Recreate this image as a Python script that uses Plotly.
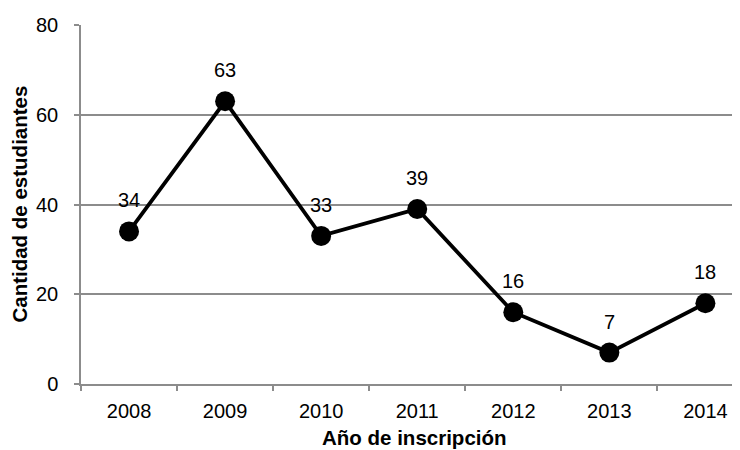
import plotly.graph_objects as go

years = ["2008", "2009", "2010", "2011", "2012", "2013", "2014"]
students = [34, 63, 33, 39, 16, 7, 18]
y_ticks = [0, 20, 40, 60, 80]

FONT = "Liberation Sans, Arial, sans-serif"
GRID = "#8c8c8c"

fig = go.Figure()
fig.add_trace(go.Scatter(
    x=years, y=students, mode="lines+markers",
    line=dict(color="black", width=3.8),
    marker=dict(color="black", size=20),
    hoverinfo="skip", showlegend=False,
))

for i, v in enumerate(students):
    fig.add_annotation(x=i, y=v, text=str(v), showarrow=False,
                       yshift=31, font=dict(family=FONT, size=20, color="#000"))

fig.add_annotation(x=0.506, xref="paper", y=-0.148, yref="paper",
                   xanchor="center", yanchor="middle",
                   text="<b>Año de inscripción</b>", showarrow=False,
                   font=dict(family=FONT, size=20.5, color="#000"))
fig.add_annotation(x=-0.094, xref="paper", y=0.5, yref="paper",
                   xanchor="center", yanchor="middle", textangle=-90,
                   text="<b>Cantidad de estudiantes</b>", showarrow=False,
                   font=dict(family=FONT, size=20.5, color="#000"))

fig.update_layout(
    width=732, height=442,
    margin=dict(l=73, r=0, t=17, b=66),
    paper_bgcolor="white", plot_bgcolor="white",
    font=dict(family=FONT, size=20, color="#000"),
    xaxis=dict(
        type="category", range=[-0.5, 6.36],
        tickson="boundaries", ticks="outside", ticklen=5, tickcolor=GRID, tickwidth=1.5,
        showline=True, linecolor=GRID, linewidth=1.5, showgrid=False,
        tickfont=dict(family=FONT, size=20, color="#000"),
        ticklabelstandoff=8,
    ),
    yaxis=dict(
        range=[0, 80], tickvals=y_ticks, ticks="outside", ticklen=5, tickcolor=GRID, tickwidth=1.5,
        showline=True, linecolor=GRID, linewidth=1.5,
        showgrid=True, gridcolor=GRID, gridwidth=1.5, zeroline=False,
        tickfont=dict(family=FONT, size=20, color="#000"),
        ticklabelstandoff=12,
    ),
)

fig.write_html("out.html")
